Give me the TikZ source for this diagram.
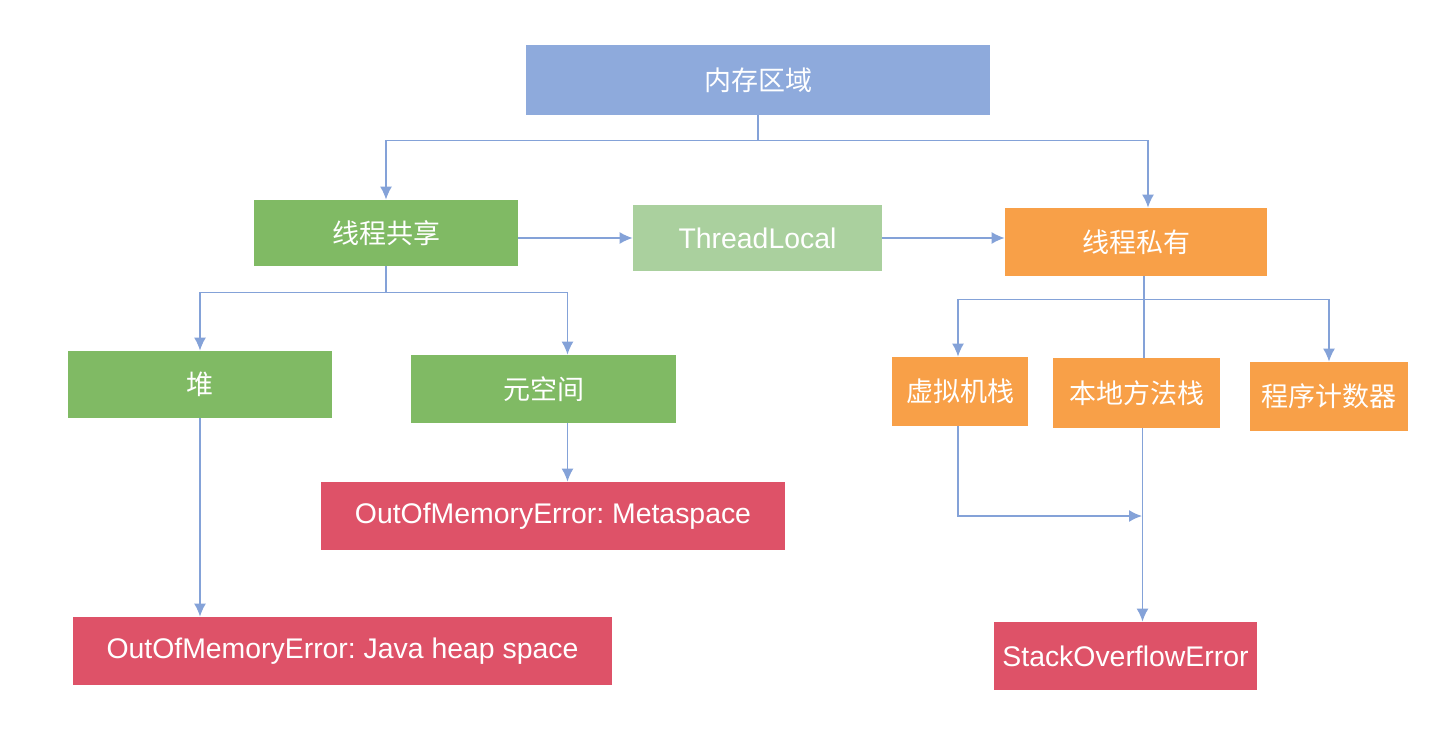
\documentclass[tikz,border=0pt]{standalone}
\usepackage{fontspec}
\setmainfont{Liberation Sans}
\newfontfamily\cjk{Noto Sans CJK SC}
\usetikzlibrary{arrows.meta}
\definecolor{memblue}{RGB}{142,170,220}
\definecolor{sharegreen}{RGB}{128,186,100}
\definecolor{tlgreen}{RGB}{170,208,158}
\definecolor{privorange}{RGB}{248,160,72}
\definecolor{errred}{RGB}{222,82,104}
\definecolor{linkblue}{RGB}{132,162,216}
\frenchspacing
\begin{document}
\begin{tikzpicture}[x=0.5pt,y=-0.5pt,>={Latex[length=6.5pt,width=6pt]},
  area/.style={rectangle,inner sep=0pt,text=white,font=\cjk\fontsize{13.5}{16}\selectfont},
  errbox/.style={area,fill=errred,font=\fontsize{14.2}{17}\selectfont},
  link/.style={draw=linkblue,line width=0.75pt}]
\useasboundingbox (0,0) rectangle (1452,743);
%%
  % Node: mem
  \node[area,fill=memblue,minimum width=232pt,minimum height=35pt] (mem) at (758,80) {内存区域};
  % Node: shared
  \node[area,fill=sharegreen,minimum width=132pt,minimum height=33pt] (shared) at (386,233) {线程共享};
  % Node: tl
  \node[area,fill=tlgreen,minimum width=124.5pt,minimum height=33pt,font=\fontsize{14.2}{17}\selectfont] (tl) at (757.5,238) {ThreadLocal};
  % Node: priv
  \node[area,fill=privorange,minimum width=131pt,minimum height=34pt] (priv) at (1136,242) {线程私有};
  % Node: heap
  \node[area,fill=sharegreen,minimum width=132pt,minimum height=33.5pt] (heap) at (200,384.5) {堆};
  % Node: meta
  \node[area,fill=sharegreen,minimum width=132.5pt,minimum height=34pt] (meta) at (543.5,389) {元空间};
  % Node: oommeta
  \node[errbox,minimum width=232pt,minimum height=34pt] (oommeta) at (553,516) {OutOfMemoryError: Metaspace};
  % Node: oomheap
  \node[errbox,minimum width=269.5pt,minimum height=34pt] (oomheap) at (342.5,651) {OutOfMemoryError: Java heap space};
  % Node: jvm
  \node[area,fill=privorange,minimum width=68pt,minimum height=34.5pt] (jvm) at (960,391.5) {虚拟机栈};
  % Node: native
  \node[area,fill=privorange,minimum width=83.5pt,minimum height=35pt] (native) at (1136.5,393) {本地方法栈};
  % Node: pc
  \node[area,fill=privorange,minimum width=79pt,minimum height=34.5pt] (pc) at (1329,396.5) {程序计数器};
  % Node: soe
  \node[errbox,minimum width=131.5pt,minimum height=34pt] (soe) at (1125.5,656) {StackOverflowError};
  \coordinate (merge) at (1142,516);
%%
  % Edge: mem -> shared
  \draw[link,->] (mem.south) -- ++(0,25) -| (shared.north);
  % Edge: mem -> priv
  \draw[link,->] (mem.south) -- ++(0,25) -| ([xshift=6pt]priv.north);
  % Edge: shared -> tl
  \draw[link,->] (tl.west -| shared.east) -- (tl.west);
  % Edge: tl -> priv
  \draw[link,->] (tl.east) -- (priv.west |- tl.east);
  % Edge: shared -> heap
  \draw[link,->] (shared.south) -- ++(0,26) -| (heap.north);
  % Edge: shared -> meta
  \draw[link,->] (shared.south) -- ++(0,26) -| ([xshift=12pt]meta.north);
  % Edge: meta -> oommeta
  \draw[link,->] ([xshift=12pt]meta.south) -- ([xshift=12pt]meta.south |- oommeta.north);
  % Edge: heap -> oomheap
  \draw[link,->] (heap.south) -- (heap.south |- oomheap.north);
  % Edge: priv -> jvm
  \draw[link,->] ([xshift=4pt]priv.south) -- ++(0,23) -| ([xshift=-1pt]jvm.north);
  % Edge: priv -> pc
  \draw[link,->] ([xshift=4pt]priv.south) -- ++(0,23) -| (pc.north);
  % Edge: priv -> native
  \draw[link] ([xshift=4pt]priv.south) -- ([xshift=4pt]priv.south |- native.north);
  % Edge: native -> soe
  \draw[link,->] ([xshift=3pt]native.south) -- ([xshift=3pt]native.south |- soe.north);
  % Edge: jvm -> soe
  \draw[link,->] ([xshift=-1pt]jvm.south) |- (merge);
%
\end{tikzpicture}
\end{document}
